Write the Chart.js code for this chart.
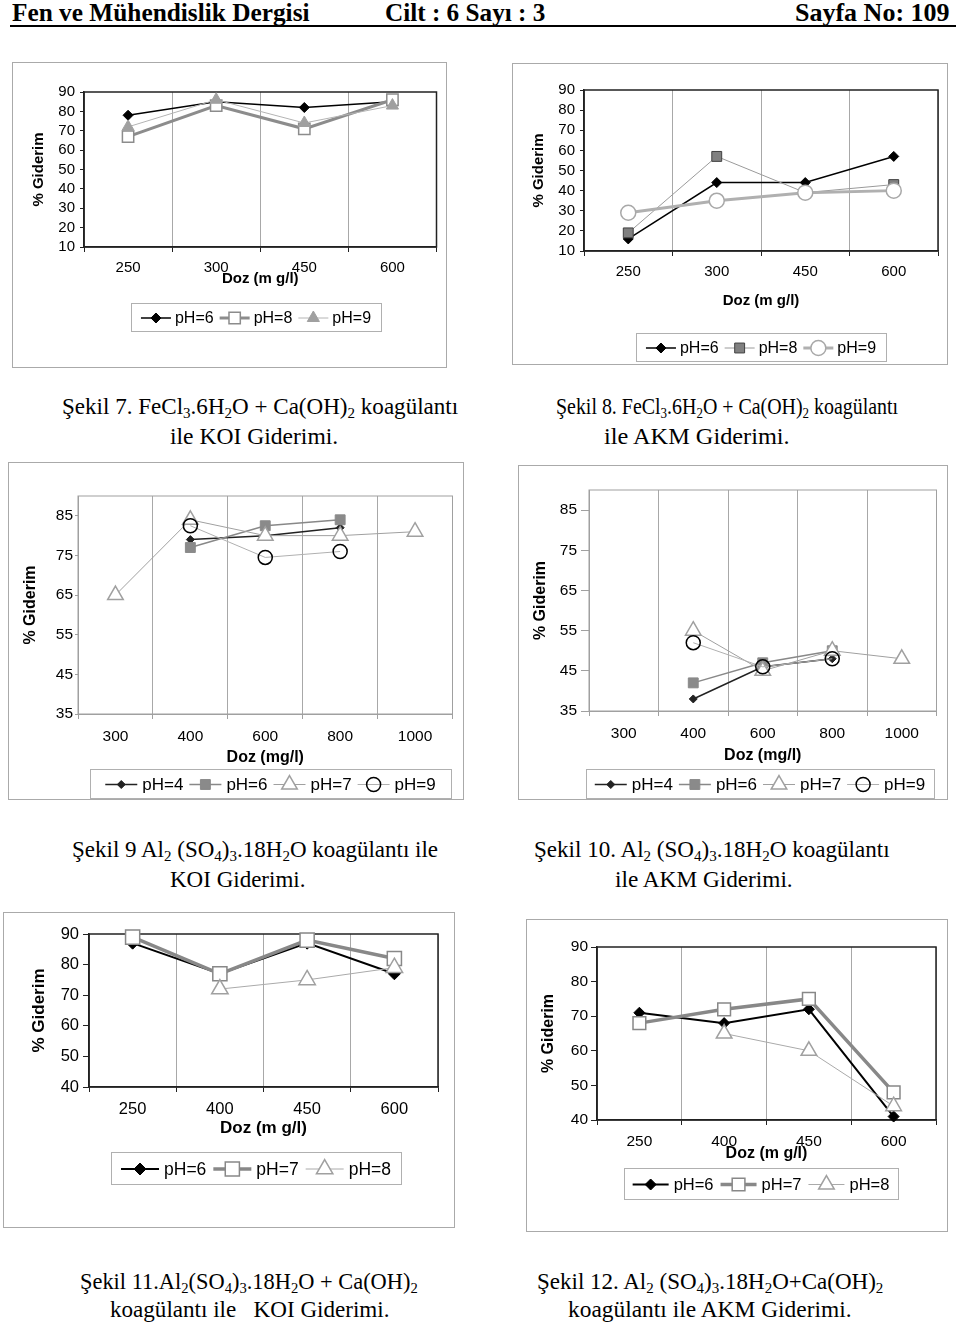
<!DOCTYPE html>
<html>
<head>
<meta charset="utf-8">
<script src="https://cdn.jsdelivr.net/npm/chart.js@4.4.0/dist/chart.umd.min.js"></script>
<style>
body { margin: 0; background: #fff; width: 960px; height: 1323px; position: relative; overflow: hidden;
  font-family: "Liberation Serif", "Times New Roman", serif; }
.hdr { position: absolute; top: 0; font-weight: bold; font-size: 26px; line-height: 26px; white-space: nowrap; transform-origin: left top; }
.rule { position: absolute; left: 10px; top: 25px; width: 946px; height: 2px; background: #000; }
.box { position: absolute; border: 1px solid #aaa; box-sizing: border-box; background: #fff; }
.box canvas { position: absolute; left: 0; top: 0; }
.cap { position: absolute; font-size: 23px; line-height: 26px; white-space: nowrap; transform-origin: left center; }
.cap sub { font-size: 15px; vertical-align: -4px; line-height: 0; }
</style>
</head>
<body>

<div class="hdr" data-x="12" data-w="298">Fen ve Mühendislik Dergisi</div>
<div class="hdr" data-x="385" data-w="160">Cilt : 6 Sayı : 3</div>
<div class="hdr" data-x="795" data-w="155">Sayfa No: 109</div>
<div class="rule"></div>

<div class="box" style="left:12px;top:62px;width:435px;height:306px"><canvas id="c7" width="433" height="304"></canvas></div>
<div class="box" style="left:512px;top:63px;width:436px;height:302px"><canvas id="c8" width="434" height="300"></canvas></div>
<div class="box" style="left:8px;top:462px;width:456px;height:338px"><canvas id="c9" width="454" height="336"></canvas></div>
<div class="box" style="left:518px;top:465px;width:430px;height:335px"><canvas id="c10" width="428" height="333"></canvas></div>
<div class="box" style="left:3px;top:912px;width:452px;height:316px"><canvas id="c11" width="450" height="314"></canvas></div>
<div class="box" style="left:526px;top:919px;width:422px;height:313px"><canvas id="c12" width="420" height="311"></canvas></div>

<div class="cap" data-x="62" data-y="407" data-w="396">Şekil 7. FeCl<sub>3</sub>.6H<sub>2</sub>O + Ca(OH)<sub>2</sub> koagülantı</div>
<div class="cap" data-x="170" data-y="437" data-w="168">ile KOI Giderimi.</div>
<div class="cap" data-x="556" data-y="407" data-w="342">Şekil 8. FeCl<sub>3</sub>.6H<sub>2</sub>O + Ca(OH)<sub>2</sub> koagülantı</div>
<div class="cap" data-x="604" data-y="437" data-w="186">ile AKM Giderimi.</div>
<div class="cap" data-x="72" data-y="850" data-w="366">Şekil 9 Al<sub>2</sub> (SO<sub>4</sub>)<sub>3</sub>.18H<sub>2</sub>O koagülantı ile</div>
<div class="cap" data-x="170" data-y="880" data-w="135">KOI Giderimi.</div>
<div class="cap" data-x="534" data-y="850" data-w="356">Şekil 10. Al<sub>2</sub> (SO<sub>4</sub>)<sub>3</sub>.18H<sub>2</sub>O koagülantı</div>
<div class="cap" data-x="615" data-y="880" data-w="178">ile AKM Giderimi.</div>
<div class="cap" data-x="80" data-y="1282" data-w="338">Şekil 11.Al<sub>2</sub>(SO<sub>4</sub>)<sub>3</sub>.18H<sub>2</sub>O + Ca(OH)<sub>2</sub></div>
<div class="cap" data-x="110" data-y="1310" data-w="280">koagülantı ile &nbsp; KOI Giderimi.</div>
<div class="cap" data-x="537" data-y="1282" data-w="346">Şekil 12. Al<sub>2</sub> (SO<sub>4</sub>)<sub>3</sub>.18H<sub>2</sub>O+Ca(OH)<sub>2</sub></div>
<div class="cap" data-x="568" data-y="1310" data-w="284">koagülantı ile AKM Giderimi.</div>

<script>
// Şekil 7 - FeCl3 + Ca(OH)2, KOI
var doz7 = ['250', '300', '450', '600'];
var koi7_pH6 = [78, 85, 82, 85];
var koi7_pH8 = [67, 83, 71, 86];
var koi7_pH9 = [72, 86, 74, 83];

// Şekil 8 - FeCl3 + Ca(OH)2, AKM
var doz8 = ['250', '300', '450', '600'];
var akm8_pH6 = [16, 44, 44, 57];
var akm8_pH8 = [19, 57, 39, 43];
var akm8_pH9 = [29, 35, 39, 40];

// Şekil 9 - Al2(SO4)3, KOI
var doz9 = ['300', '400', '600', '800', '1000'];
var koi9_pH4 = [null, 79, 80, 82, null];
var koi9_pH6 = [null, 77, 82.5, 84, null];
var koi9_pH7 = [65, 84, 80, 80, 81];
var koi9_pH9 = [null, 82.5, 74.5, 76, null];

// Şekil 10 - Al2(SO4)3, AKM
var doz10 = ['300', '400', '600', '800', '1000'];
var akm10_pH4 = [null, 38, 46, 48, null];
var akm10_pH6 = [null, 42, 47, 50, null];
var akm10_pH7 = [null, 55, 45, 50, 48];
var akm10_pH9 = [null, 52, 46, 48, null];

// Şekil 11 - Al2(SO4)3 + Ca(OH)2, KOI
var doz11 = ['250', '400', '450', '600'];
var koi11_pH6 = [87, 77, 87, 77];
var koi11_pH7 = [89, 77, 88, 82];
var koi11_pH8 = [null, 72, 75, 79];

// Şekil 12 - Al2(SO4)3 + Ca(OH)2, AKM
var doz12 = ['250', '400', '450', '600'];
var akm12_pH6 = [71, 68, 72, 41];
var akm12_pH7 = [68, 72, 75, 48];
var akm12_pH8 = [null, 65, 60, 44];

// y axis tick labels
var yTicksFe = [10, 20, 30, 40, 50, 60, 70, 80, 90];
var yTicksAl = [35, 45, 55, 65, 75, 85];
var yTicksAlCa = [40, 50, 60, 70, 80, 90];

var SANS = '"Liberation Sans", Arial, sans-serif';
Chart.defaults.font.family = SANS;
Chart.defaults.color = '#000';

// line + marker styles
function st(line, lw, shape, r, fill, edge, ew) {
    return { borderColor: line, borderWidth: lw, pointStyle: shape, pointRadius: r, pointHoverRadius: r,
             pointBackgroundColor: fill, pointBorderColor: edge, pointBorderWidth: ew };
}

function series(label, data, style, i) {
    return Object.assign({ label: label, data: data, spanGaps: true, clip: false, tension: 0, order: -i }, style);
}

function drawMarker(ctx, ds, x, y) {
    ctx.fillStyle = ds.pointBackgroundColor;
    ctx.strokeStyle = ds.pointBorderColor;
    ctx.lineWidth = ds.pointBorderWidth;
    Chart.helpers.drawPoint(ctx, { pointStyle: ds.pointStyle, radius: ds.pointRadius, borderWidth: ds.pointBorderWidth, rotation: 0 }, x, y);
}

// excel style legend inside a grey box
var boxLegend = {
    id: 'boxLegend',
    afterDraw: function (chart, args, o) {
        var ctx = chart.ctx;
        ctx.save();
        ctx.fillStyle = '#fff';
        ctx.fillRect(o.x, o.y, o.w, o.h);
        ctx.strokeStyle = '#b0b0b0';
        ctx.lineWidth = 1;
        ctx.strokeRect(o.x + 0.5, o.y + 0.5, o.w, o.h);
        ctx.font = o.size + 'px ' + SANS;
        ctx.textBaseline = 'middle';
        var dss = chart.data.datasets;
        var total = 0;
        dss.forEach(function (ds, i) {
            total += o.line + o.tgap + ctx.measureText(ds.label).width + (i ? o.gap : 0);
        });
        var x = o.x + (o.w - total) / 2, cy = o.y + o.h / 2 + 1;
        dss.forEach(function (ds) {
            ctx.strokeStyle = ds.borderColor;
            ctx.lineWidth = ds.borderWidth;
            ctx.beginPath();
            ctx.moveTo(x, cy);
            ctx.lineTo(x + o.line, cy);
            ctx.stroke();
            drawMarker(ctx, ds, x + o.line / 2, cy);
            ctx.fillStyle = '#000';
            ctx.fillText(ds.label, x + o.line + o.tgap, cy + 1);
            x += o.line + o.tgap + ctx.measureText(ds.label).width + o.gap;
        });
        ctx.restore();
    }
};

// frame around the plot area
var plotFrame = {
    id: 'plotFrame',
    beforeDatasetsDraw: function (chart, args, o) {
        var a = chart.chartArea, ctx = chart.ctx;
        ctx.save();
        ctx.strokeStyle = o.color;
        ctx.lineWidth = o.width;
        ctx.strokeRect(a.left, a.top, a.right - a.left, a.bottom - a.top);
        ctx.restore();
    }
};

function makeChart(id, labels, datasets, yMin, yMax, yTicks, g) {
    var lh = g.tfont * 1.2;
    return new Chart(document.getElementById(id), {
        type: 'line',
        data: { labels: labels, datasets: datasets },
        options: {
            responsive: false,
            animation: false,
            layout: { padding: { left: 0, top: g.pt, right: g.w - g.pr, bottom: 0 } },
            plugins: {
                legend: { display: false },
                tooltip: { enabled: false },
                boxLegend: g.legend,
                plotFrame: { color: g.frame, width: g.frameW }
            },
            scales: {
                x: {
                    offset: true,
                    afterFit: function (s) { s.height = g.h - g.pb; },
                    grid: { offset: true, color: '#a8a8a8', tickColor: g.frame, tickLength: 5 },
                    border: { color: g.frame, width: g.frameW },
                    ticks: { font: { size: g.font }, padding: g.xpad, maxRotation: 0, autoSkip: false },
                    title: { display: true, text: g.xTitle, font: { size: g.tfont, weight: 'bold' },
                             padding: { top: 0, bottom: g.h - g.xTitleY - lh / 2 } }
                },
                y: {
                    min: yMin, max: yMax,
                    afterFit: function (s) { s.width = g.pl; },
                    afterBuildTicks: function (s) { s.ticks = yTicks.map(function (v) { return { value: v }; }); },
                    grid: { drawOnChartArea: false, tickLength: g.ytl, tickColor: g.frame },
                    border: { color: g.frame, width: g.frameW },
                    ticks: { font: { size: g.font }, padding: g.ypad, autoSkip: false },
                    title: { display: true, text: '% Giderim', font: { size: g.tfont, weight: 'bold' },
                             padding: { top: g.yTitleX - lh / 2, bottom: 0 } }
                }
            }
        },
        plugins: [plotFrame, boxLegend]
    });
}

// Şekil 7
makeChart('c7', doz7, [
    series('pH=6', koi7_pH6, st('#000', 1.5, 'rectRot', 5, '#000', '#000', 1), 0),
    series('pH=8', koi7_pH8, st('#8c8c8c', 3, 'rect', 8, '#fff', '#8c8c8c', 1.5), 1),
    series('pH=9', koi7_pH9, st('#b4b4b4', 1, 'triangle', 7, '#a0a0a0', '#a0a0a0', 1), 2)
], 10, 90, yTicksFe, { w: 433, h: 304, pl: 71, pt: 29, pr: 428, pb: 184, font: 15, tfont: 15, xpad: 7, ypad: 5, ytl: 4,
    xTitle: 'Doz (m g/l)', xTitleY: 216, yTitleX: 26, frame: '#222', frameW: 1.5,
    legend: { x: 118, y: 240, w: 250, h: 28, size: 16, line: 30, tgap: 4, gap: 6 } });

// Şekil 8
makeChart('c8', doz8, [
    series('pH=6', akm8_pH6, st('#000', 1.5, 'rectRot', 5, '#000', '#000', 1), 0),
    series('pH=8', akm8_pH8, st('#9a9a9a', 1, 'rect', 7, '#808080', '#404040', 1), 1),
    series('pH=9', akm8_pH9, st('#b0b0b0', 3, 'circle', 7.5, '#fff', '#a8a8a8', 1.5), 2)
], 10, 90, yTicksFe, { w: 434, h: 300, pl: 71, pt: 26, pr: 425, pb: 187, font: 15, tfont: 15, xpad: 7, ypad: 5, ytl: 4,
    xTitle: 'Doz (m g/l)', xTitleY: 237, yTitleX: 26, frame: '#222', frameW: 1.5,
    legend: { x: 123, y: 269, w: 250, h: 28, size: 16, line: 30, tgap: 4, gap: 6 } });

// Şekil 9
makeChart('c9', doz9, [
    series('pH=4', koi9_pH4, st('#222', 1.5, 'rectRot', 4, '#222', '#222', 1), 0),
    series('pH=6', koi9_pH6, st('#888', 1.5, 'rect', 7, '#8a8a8a', '#8a8a8a', 1), 1),
    series('pH=7', koi9_pH7, st('#a0a0a0', 1, 'triangle', 9, '#fff', '#a0a0a0', 1.5), 2),
    series('pH=9', koi9_pH9, st('#b0b0b0', 1, 'circle', 7, 'rgba(0,0,0,0)', '#000', 1.5), 3)
], 35, 90, yTicksAl, { w: 454, h: 336, pl: 69, pt: 33, pr: 444, pb: 251, font: 15.5, tfont: 16, xpad: 8, ypad: 2, ytl: 3,
    xTitle: 'Doz (mg/l)', xTitleY: 295, yTitleX: 22, frame: '#a0a0a0', frameW: 1,
    legend: { x: 81, y: 306, w: 361, h: 29, size: 17, line: 32, tgap: 5, gap: 6 } });

// Şekil 10
makeChart('c10', doz10, [
    series('pH=4', akm10_pH4, st('#222', 1.5, 'rectRot', 4, '#222', '#222', 1), 0),
    series('pH=6', akm10_pH6, st('#888', 1.5, 'rect', 7, '#8a8a8a', '#8a8a8a', 1), 1),
    series('pH=7', akm10_pH7, st('#a0a0a0', 1, 'triangle', 9, '#fff', '#a0a0a0', 1.5), 2),
    series('pH=9', akm10_pH9, st('#b0b0b0', 1, 'circle', 7, 'rgba(0,0,0,0)', '#000', 1.5), 3)
], 35, 90, yTicksAl, { w: 428, h: 333, pl: 70, pt: 24, pr: 419, pb: 245, font: 15.5, tfont: 16, xpad: 8, ypad: 4, ytl: 8,
    xTitle: 'Doz (mg/l)', xTitleY: 290, yTitleX: 22, frame: '#a0a0a0', frameW: 1,
    legend: { x: 67, y: 303, w: 348, h: 29, size: 17, line: 32, tgap: 5, gap: 6 } });

// Şekil 11
makeChart('c11', doz11, [
    series('pH=6', koi11_pH6, st('#000', 2, 'rectRot', 6, '#000', '#000', 1), 0),
    series('pH=7', koi11_pH7, st('#888', 3.5, 'rect', 10, '#fff', '#888', 1.5), 1),
    series('pH=8', koi11_pH8, st('#aaa', 1, 'triangle', 9.5, '#fff', '#a0a0a0', 1.5), 2)
], 40, 90, yTicksAlCa, { w: 450, h: 314, pl: 85, pt: 21, pr: 434, pb: 174, font: 16.5, tfont: 17, xpad: 8, ypad: 4, ytl: 6,
    xTitle: 'Doz (m g/l)', xTitleY: 215, yTitleX: 35, frame: '#222', frameW: 1.5,
    legend: { x: 107, y: 239, w: 290, h: 32, size: 17.5, line: 38, tgap: 5, gap: 7 } });

// Şekil 12
makeChart('c12', doz12, [
    series('pH=6', akm12_pH6, st('#000', 2, 'rectRot', 5.5, '#000', '#000', 1), 0),
    series('pH=7', akm12_pH7, st('#888', 3.5, 'rect', 9, '#fff', '#888', 1.5), 1),
    series('pH=8', akm12_pH8, st('#aaa', 1, 'triangle', 9, '#fff', '#a0a0a0', 1.5), 2)
], 40, 90, yTicksAlCa, { w: 420, h: 311, pl: 70, pt: 27, pr: 409, pb: 200, font: 15.5, tfont: 16, xpad: 7, ypad: 3, ytl: 6,
    xTitle: 'Doz (m g/l)', xTitleY: 234, yTitleX: 22, frame: '#222', frameW: 1.5,
    legend: { x: 97, y: 248, w: 274, h: 31, size: 16.5, line: 36, tgap: 5, gap: 7 } });

// squeeze the serif texts to the widths seen on the page
document.querySelectorAll('.hdr, .cap').forEach(function (el) {
    el.style.left = el.dataset.x + 'px';
    if (el.dataset.y) el.style.top = (el.dataset.y - 13) + 'px';
    var k = el.dataset.w / el.offsetWidth;
    el.style.transform = 'scaleX(' + k + ')';
});
</script>
</body>
</html>
